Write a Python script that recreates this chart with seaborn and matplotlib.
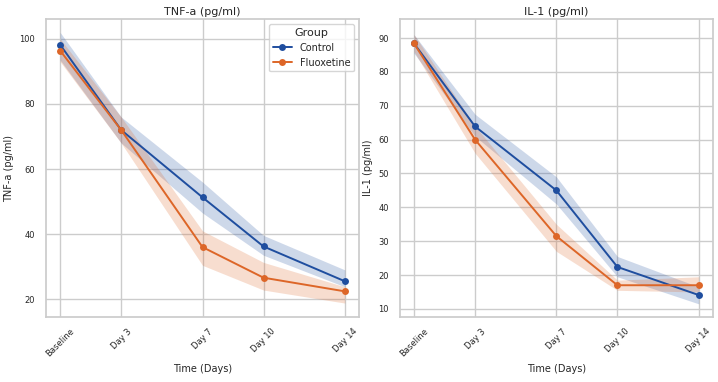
import matplotlib
matplotlib.use("Agg")
import matplotlib.pyplot as plt
import seaborn as sns
import pandas as pd

sns.set_theme(style="whitegrid")
plt.rcParams['font.family'] = "DejaVu Sans"
plt.rcParams['font.size'] = 7

# Data (mean and band limits)
days = [0, 3, 7, 10, 14]
day_labels = ["Baseline", "Day 3", "Day 7", "Day 10", "Day 14"]
groups = ["Control", "Fluoxetine"]

tnf_control = [98.2, 72.0, 51.3, 36.2, 25.5]
tnf_control_lo = [93.5, 68.0, 46.5, 33.5, 23.8]
tnf_control_hi = [102.0, 76.0, 56.0, 39.6, 29.0]
tnf_fluox = [96.4, 72.0, 36.0, 26.6, 22.4]
tnf_fluox_lo = [93.0, 68.0, 30.4, 22.8, 18.8]
tnf_fluox_hi = [100.0, 76.0, 41.0, 31.3, 23.8]

il1_control = [88.4, 63.9, 45.0, 22.4, 14.1]
il1_control_lo = [85.5, 61.0, 41.0, 19.5, 11.5]
il1_control_hi = [91.0, 67.5, 49.0, 25.5, 16.5]
il1_fluox = [88.4, 60.0, 31.5, 17.0, 17.0]
il1_fluox_lo = [86.0, 56.0, 27.0, 15.5, 15.0]
il1_fluox_hi = [91.0, 64.0, 35.0, 18.5, 19.5]

colors = {"Control": "#1f4e9f", "Fluoxetine": "#dd6628"}


def long_table(ctrl, ctrl_lo, ctrl_hi, flx, flx_lo, flx_hi):
    rows = []
    for g, m, lo, hi in [("Control", ctrl, ctrl_lo, ctrl_hi), ("Fluoxetine", flx, flx_lo, flx_hi)]:
        for d, v, l, h in zip(days, m, lo, hi):
            rows.append({"Day": d, "value": v, "lo": l, "hi": h, "Group": g})
    return pd.DataFrame(rows)


tnf = long_table(tnf_control, tnf_control_lo, tnf_control_hi, tnf_fluox, tnf_fluox_lo, tnf_fluox_hi)
il1 = long_table(il1_control, il1_control_lo, il1_control_hi, il1_fluox, il1_fluox_lo, il1_fluox_hi)

fig, axs = plt.subplots(1, 2, figsize=(7.18, 3.82), dpi=100)
fig.subplots_adjust(left=0.064, right=0.993, top=0.95, bottom=0.17, wspace=0.13)

panels = [
    (axs[0], tnf, "TNF-a (pg/ml)", [20, 40, 60, 80, 100], (14.5, 106.1)),
    (axs[1], il1, "IL-1 (pg/ml)", [10, 20, 30, 40, 50, 60, 70, 80, 90], (7.6, 95.6)),
]

for ax, df, name, yt, ylim in panels:
    for g in groups:
        sub = df[df.Group == g]
        ax.fill_between(sub.Day, sub.lo, sub.hi, color=colors[g], alpha=0.22, linewidth=0)
    sns.lineplot(ax=ax, data=df, x="Day", y="value", hue="Group", palette=colors,
                 marker="o", markersize=5, markeredgewidth=0, linewidth=1.4, errorbar=None)
    ax.set_title(name, fontsize=8, pad=3)
    ax.set_ylabel(name, fontsize=7)
    ax.set_xlabel("Time (Days)", fontsize=7)
    ax.set_xticks(days)
    ax.set_xticklabels(day_labels, rotation=45, fontsize=6)
    ax.set_yticks(yt)
    ax.tick_params(axis="y", labelsize=6, pad=2)
    ax.tick_params(axis="x", pad=1)
    ax.set_ylim(ylim)
    for s in ax.spines.values():
        s.set_color("#cccccc")

axs[0].legend(title="Group", loc="upper right", fontsize=7, title_fontsize=8)
axs[1].get_legend().remove()

fig.savefig("out.png", dpi=100)
